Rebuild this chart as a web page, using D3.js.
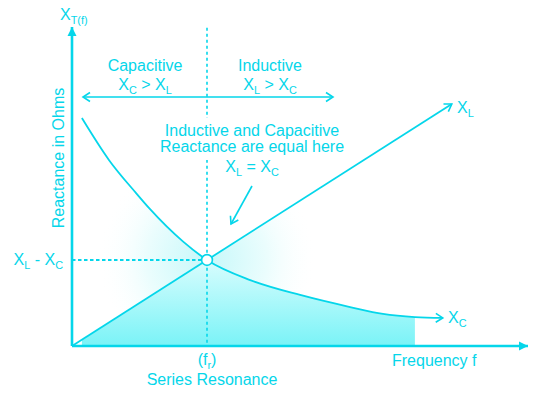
<!DOCTYPE html>
<html>
<head>
<meta charset="utf-8">
<script src="https://cdn.jsdelivr.net/npm/d3@7"></script>
<style>
  body { margin: 0; background: #fff; }
  svg text { font-family: 'Liberation Sans', Arial, sans-serif; fill: #05d6ea; }
</style>
</head>
<body>
<svg id="chart" width="536" height="393"></svg>
<script>
// frequency is in units where the resonant frequency sits at 3
const resonance = 3.0;

// capacitive reactance curve
const xcFreq = [0.22, 0.82, 1.42, 1.73, 2.47, 3.0, 3.96, 5.07, 6.18, 6.91, 7.62, 8.24];
const xcValues = [7.95, 6.49, 5.34, 4.78, 3.64, 3.0, 2.30, 1.78, 1.36, 1.12, 1.01, 0.98];

// inductive reactance is a straight line from the origin
const xlFreq = [0, 8.44];
const xlValues = [0, 8.44];

// shading under the curves stops here
const fillEnd = 7.62;

const color = '#05d6ea';

const svg = d3.select('#chart');
const x = d3.scaleLinear().domain([0, 10]).range([72, 522]);
const y = d3.scaleLinear().domain([0, 10]).range([346, 59.3]);

const xc = xcFreq.map((f, i) => ({ f, v: xcValues[i] }));
const xl = xlFreq.map((f, i) => ({ f, v: xlValues[i] }));
const xlAt = d3.scaleLinear().domain(xlFreq).range(xlValues);

const line = d3.line().x(d => x(d.f)).y(d => y(d.v)).curve(d3.curveMonotoneX);
const area = d3.area().x(d => x(d.f)).y0(y(0)).y1(d => y(d.v)).curve(d3.curveMonotoneX);

const defs = svg.append('defs');

// arrow heads
defs.append('marker')
  .attr('id', 'open-arrow')
  .attr('viewBox', '-10 -6 12 12')
  .attr('markerWidth', 12)
  .attr('markerHeight', 12)
  .attr('markerUnits', 'userSpaceOnUse')
  .attr('refX', 0)
  .attr('refY', 0)
  .attr('orient', 'auto-start-reverse')
  .append('path')
  .attr('d', 'M-7,-4.5L0,0L-7,4.5')
  .style('fill', 'none')
  .style('stroke', color)
  .style('stroke-width', 1.6);

defs.append('marker')
  .attr('id', 'solid-arrow')
  .attr('viewBox', '-10 -6 12 12')
  .attr('markerWidth', 12)
  .attr('markerHeight', 12)
  .attr('markerUnits', 'userSpaceOnUse')
  .attr('refX', 0)
  .attr('refY', 0)
  .attr('orient', 'auto')
  .append('path')
  .attr('d', 'M-9,-4.5L0,0L-9,4.5Z')
  .style('fill', color);

const fillGrad = defs.append('linearGradient')
  .attr('id', 'fill-grad')
  .attr('gradientUnits', 'userSpaceOnUse')
  .attr('x1', 0).attr('x2', 0)
  .attr('y1', y(resonance) - 10).attr('y2', y(0));
fillGrad.append('stop').attr('offset', 0).attr('stop-color', '#e4fefe');
fillGrad.append('stop').attr('offset', 1).attr('stop-color', '#7af3f7');

const glowGrad = defs.append('radialGradient')
  .attr('id', 'glow-grad')
  .attr('gradientUnits', 'userSpaceOnUse')
  .attr('cx', x(resonance)).attr('cy', y(resonance))
  .attr('r', 110);
glowGrad.append('stop').attr('offset', 0).attr('stop-color', '#c6f8fa');
glowGrad.append('stop').attr('offset', 0.55).attr('stop-color', '#ebfdfd');
glowGrad.append('stop').attr('offset', 1).attr('stop-color', '#ffffff').attr('stop-opacity', 0);

// region below the lower of the two reactances
defs.append('clipPath')
  .attr('id', 'under-xl')
  .append('path')
  .attr('d', d3.line()([
    [x(0), y(0)],
    [x(fillEnd), y(xlAt(fillEnd))],
    [x(fillEnd), y(0)]
  ]) + 'Z');

const glowClip = defs.append('clipPath').attr('id', 'under-either');
glowClip.append('path').attr('d', area(xc));
glowClip.append('path').attr('d', d3.area().x(d => x(d.f)).y0(y(0)).y1(d => y(d.v))(xl));

// faint glow around the crossing point
svg.append('rect')
  .attr('x', x(0)).attr('y', y(10))
  .attr('width', x(10) - x(0)).attr('height', y(0) - y(10))
  .attr('clip-path', 'url(#under-either)')
  .style('fill', 'url(#glow-grad)');

svg.append('path')
  .attr('d', area(xc))
  .attr('clip-path', 'url(#under-xl)')
  .style('fill', 'url(#fill-grad)');

// resonance guides
svg.append('line')
  .attr('x1', x(resonance)).attr('x2', x(resonance))
  .attr('y1', y(11.1)).attr('y2', y(0))
  .style('stroke', color)
  .style('stroke-width', 1.6)
  .style('stroke-dasharray', '3,3');

svg.append('line')
  .attr('x1', x(0)).attr('x2', x(resonance))
  .attr('y1', y(resonance)).attr('y2', y(resonance))
  .style('stroke', color)
  .style('stroke-width', 2)
  .style('stroke-dasharray', '3.5,2.5');

// axes
svg.append('line')
  .attr('x1', x(0)).attr('x2', x(10) + 6)
  .attr('y1', y(0)).attr('y2', y(0))
  .attr('marker-end', 'url(#solid-arrow)')
  .style('stroke', color)
  .style('stroke-width', 2.6);

svg.append('line')
  .attr('x1', x(0)).attr('x2', x(0))
  .attr('y1', y(0)).attr('y2', y(11.13))
  .attr('marker-end', 'url(#solid-arrow)')
  .style('stroke', color)
  .style('stroke-width', 2.6);

// reactance curves
svg.append('path')
  .attr('d', line(xl))
  .attr('marker-end', 'url(#open-arrow)')
  .style('fill', 'none')
  .style('stroke', color)
  .style('stroke-width', 1.8);

svg.append('path')
  .attr('d', line(xc))
  .attr('marker-end', 'url(#open-arrow)')
  .style('fill', 'none')
  .style('stroke', color)
  .style('stroke-width', 1.8);

svg.append('circle')
  .attr('cx', x(resonance)).attr('cy', y(resonance))
  .attr('r', 5.4)
  .style('fill', '#fff')
  .style('stroke', color)
  .style('stroke-width', 1.6);

// capacitive / inductive span arrow
svg.append('line')
  .attr('x1', 83).attr('x2', 333)
  .attr('y1', 97).attr('y2', 97)
  .attr('marker-start', 'url(#open-arrow)')
  .attr('marker-end', 'url(#open-arrow)')
  .style('stroke', color)
  .style('stroke-width', 1.6);

// pointer to the crossing
svg.append('line')
  .attr('x1', 252).attr('x2', 231)
  .attr('y1', 186).attr('y2', 224)
  .attr('marker-end', 'url(#open-arrow)')
  .style('stroke', color)
  .style('stroke-width', 1.6);

// labels; parts flagged true are subscripts
function label (px, py, parts, anchor = 'middle', size = 16) {
  const t = svg.append('text')
    .attr('x', px)
    .attr('y', py)
    .style('font-size', size + 'px')
    .style('text-anchor', anchor);
  let down = false;
  parts.forEach(([s, sub]) => {
    const span = t.append('tspan').text(s);
    if (sub && !down) {
      span.attr('dy', 4).style('font-size', (size * 0.68) + 'px');
      down = true;
    } else if (sub) {
      span.style('font-size', (size * 0.68) + 'px');
    } else if (down) {
      span.attr('dy', -4);
      down = false;
    }
  });
  return t;
}

// white patch where the note text crosses the dotted guide
svg.append('rect')
  .attr('x', 160).attr('y', 118)
  .attr('width', 184).attr('height', 42)
  .style('fill', '#fff');

label(60, 20, [['X'], ['T(f)', true]], 'start');
label(145, 71, [['Capacitive']]);
label(145, 90, [['X'], ['C', true], [' > X'], ['L', true]]);
label(270, 71, [['Inductive']]);
label(270, 90, [['X'], ['L', true], [' > X'], ['C', true]]);
label(252, 136, [['Inductive and Capacitive']]);
label(252, 152, [['Reactance are equal here']]);
label(252, 172, [['X'], ['L', true], [' = X'], ['C', true]]);
label(63, 265, [['X'], ['L', true], [' - X'], ['C', true]], 'end');
label(457, 113, [['X'], ['L', true]], 'start');
label(448, 323, [['X'], ['C', true]], 'start');
label(x(resonance), 365, [['(f'], ['r', true], [')']]);
label(212, 385, [['Series Resonance']]);
label(392, 366, [['Frequency f']], 'start');

svg.append('text')
  .attr('transform', 'translate(64,158) rotate(-90)')
  .style('font-size', '16px')
  .style('text-anchor', 'middle')
  .text('Reactance in Ohms');
</script>
</body>
</html>
